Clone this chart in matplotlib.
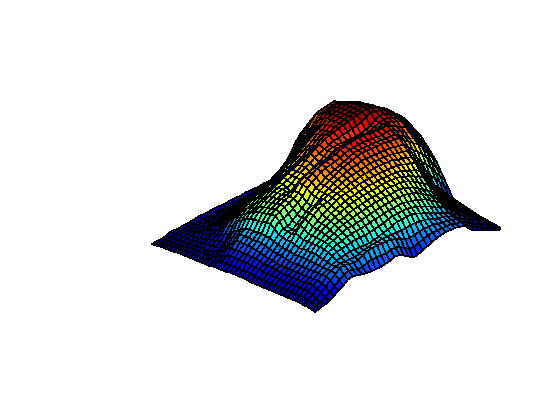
import numpy as np
import matplotlib
matplotlib.use("Agg")
import matplotlib.pyplot as plt
from mpl_toolkits.mplot3d import proj3d

# Surface heights (rows: left->front edge, cols: front->right edge)
heights = [
[0,1,1,2,4,4,4,5,5,6,7,7,7,8,8,8,8,9,9,9,10,10,10,10,11,11,11,11,12,12,13,13,14,14,15,15,15,15,15,14,14],
[0,1,2,2,3,4,4,5,5,5,6,6,6,7,7,7,8,8,9,9,10,11,12,13,14,15,17,19,22,22,23,23,24,24,24,24,24,23,21,19,18],
[1,1,2,3,4,4,5,5,6,6,6,7,7,8,8,9,9,10,11,12,13,14,15,16,18,20,23,27,32,33,34,35,36,36,35,34,33,31,28,25,23],
[1,2,2,3,4,5,5,6,6,7,7,8,8,9,10,11,12,13,14,15,16,17,19,21,23,27,32,38,44,46,47,48,48,47,46,44,41,38,35,30,27],
[1,2,2,3,4,5,6,6,7,8,8,9,10,11,12,13,14,15,16,17,18,20,22,24,28,34,42,50,57,59,60,61,61,59,56,53,50,46,41,36,32],
[1,2,2,3,4,5,7,8,9,10,11,12,13,15,16,17,19,20,22,24,26,28,30,33,37,43,50,57,64,66,67,68,68,66,62,60,56,52,46,41,36],
[2,3,3,4,5,6,8,10,12,13,14,16,17,19,20,22,24,26,28,30,32,35,38,42,46,51,57,64,71,73,74,75,76,73,69,66,63,57,51,46,40],
[2,3,4,4,5,7,9,11,14,15,17,19,20,22,24,26,28,30,32,34,37,40,44,48,53,59,65,72,78,80,81,82,83,80,76,72,69,62,56,50,44],
[2,4,4,5,6,8,11,13,16,18,20,22,24,26,28,30,32,34,37,39,42,46,50,55,60,66,72,79,85,87,88,89,90,86,82,79,75,68,61,55,48],
[2,3,4,5,7,9,12,16,20,23,25,27,30,32,34,36,38,40,43,45,48,52,57,61,66,71,76,81,87,88,89,90,91,88,84,82,78,71,64,58,51],
[2,3,5,4,7,10,14,20,25,28,30,32,35,37,40,42,44,46,49,51,54,58,62,66,71,76,80,85,90,90,92,93,93,90,87,84,80,74,67,60,54],
[2,3,4,6,8,11,16,22,29,31,34,37,39,41,45,47,49,51,53,57,60,64,67,71,76,80,83,88,91,92,93,94,94,92,90,86,82,76,70,63,57],
[2,3,5,6,8,12,18,25,32,36,39,42,45,47,50,52,54,57,60,62,65,69,72,76,80,83,86,90,92,93,94,95,95,94,92,88,85,79,73,66,60],
[2,5,5,9,12,17,22,30,35,39,41,45,47,50,53,55,58,60,62,65,68,72,74,78,82,84,87,90,92,93,94,95,96,95,92,89,86,80,74,68,62],
[2,4,8,11,15,20,25,33,38,41,44,47,50,53,55,58,60,62,65,67,70,74,76,80,83,85,88,90,92,93,94,95,96,95,93,90,86,82,76,70,65],
[3,6,9,15,18,23,28,36,41,43,47,49,53,55,58,61,63,65,67,70,73,76,78,82,85,86,88,90,92,93,94,95,96,95,94,90,87,83,78,72,68],
[3,8,11,17,22,27,30,38,43,46,49,52,55,56,58,60,62,64,68,72,76,79,81,84,86,87,89,90,92,93,94,95,96,95,94,91,88,84,79,75,70],
[3,7,13,16,23,26,31,39,44,47,50,53,55,57,56,58,62,65,68,70,74,76,78,80,82,83,84,85,86,87,89,92,94,93,92,90,86,82,77,72,68],
[3,8,12,18,22,27,31,39,45,48,51,53,55,56,54,58,62,64,66,68,71,74,78,80,80,80,80,80,80,81,82,84,88,90,90,88,85,80,75,70,65],
[4,7,13,16,23,26,31,40,46,49,52,54,56,57,58,62,65,67,69,71,73,75,78,80,80,80,80,80,80,81,83,85,87,88,88,86,83,78,73,68,62],
[4,8,12,18,22,27,32,41,47,50,53,55,57,60,66,70,72,74,76,77,78,80,82,84,85,85,86,86,86,85,85,86,87,87,86,84,82,76,71,65,60],
[4,7,13,16,21,26,31,41,47,49,52,54,56,60,66,70,73,76,78,79,80,82,84,86,87,88,88,88,88,87,87,87,88,85,83,80,78,72,66,60,55],
[4,8,12,17,20,25,31,38,44,44,47,50,54,58,64,68,71,74,76,77,78,80,82,84,84,85,85,85,85,84,84,85,85,82,80,76,74,68,62,56,50],
[4,8,11,16,19,24,29,34,38,38,42,46,50,54,60,64,66,70,72,74,76,78,80,82,83,83,83,83,83,83,82,83,82,79,76,72,70,64,58,52,45],
[3,7,12,14,18,23,28,33,37,36,40,44,48,52,59,63,66,69,71,74,76,78,79,81,82,82,82,82,82,82,81,81,80,76,73,69,66,60,53,47,40],
[3,6,10,15,18,22,27,32,36,38,42,46,50,54,58,62,65,68,70,72,74,75,76,78,78,78,78,78,78,78,77,76,76,71,66,62,58,52,45,39,32],
[3,7,10,14,17,22,26,32,38,44,48,52,56,58,60,62,64,66,68,70,71,72,73,74,75,75,75,75,75,74,73,72,71,66,60,54,49,44,37,31,25],
[3,6,11,14,16,21,26,31,37,42,47,52,56,58,59,61,63,64,66,68,68,70,70,71,72,72,72,72,72,70,69,68,66,60,54,47,40,35,29,23,18],
[3,6,10,13,16,20,25,29,35,39,44,48,52,55,57,60,62,63,64,65,66,67,67,68,68,68,68,68,68,67,65,64,62,55,47,40,32,27,21,15,10],
[3,6,10,13,16,20,25,30,35,39,43,47,50,53,55,57,59,60,61,62,63,64,64,65,65,65,65,65,64,62,60,59,56,50,42,36,29,24,19,14,9],
[3,6,10,13,16,20,25,30,35,39,43,46,49,51,53,55,57,58,59,60,61,61,62,63,63,63,63,62,60,59,56,54,51,45,38,32,26,22,17,12,8],
[3,6,10,13,16,20,25,30,35,38,41,44,47,49,50,52,54,55,56,57,58,58,59,60,60,60,60,59,57,55,52,49,46,40,34,28,23,19,15,10,7],
[3,6,10,13,16,20,25,30,35,38,40,42,45,47,48,50,51,52,53,54,55,55,56,56,57,57,56,55,53,50,47,44,40,35,30,25,20,16,13,9,6],
[3,6,10,13,16,20,24,29,34,37,39,41,43,45,45,46,47,48,49,50,51,52,52,53,53,53,52,51,49,46,43,40,36,32,27,23,19,15,11,8,5],
[3,6,10,13,16,20,24,28,33,35,37,38,40,41,42,42,43,44,45,46,47,48,48,49,49,48,47,46,44,42,39,36,33,29,25,21,17,13,10,7,4],
[3,6,10,14,16,20,24,27,31,33,34,35,36,37,37,37,38,39,40,41,43,44,44,45,45,44,43,41,39,37,34,32,30,26,22,19,16,12,9,6,3],
[3,6,10,14,17,20,23,26,28,29,30,31,31,31,31,31,32,33,35,36,38,40,40,41,41,40,38,36,34,32,30,28,26,23,20,17,14,11,8,5,3],
[2,5,8,12,15,20,24,26,27,27,27,27,28,30,31,32,32,33,33,33,33,33,33,34,34,34,33,32,30,28,28,26,24,21,18,15,12,10,7,4,2],
[2,4,6,10,14,18,22,26,27,26,25,26,29,31,32,32,32,32,32,30,28,26,25,26,27,28,28,28,27,26,26,24,23,19,16,13,10,8,6,3,2],
[1,3,4,7,10,14,18,21,23,22,20,21,23,24,24,24,24,25,26,24,21,18,18,20,22,23,24,24,24,24,24,22,22,17,14,11,9,6,4,2,1],
[0,2,3,5,8,11,14,18,19,18,17,16,16,16,16,17,18,20,20,17,14,11,12,14,16,18,20,21,22,22,22,21,20,15,11,9,7,5,3,1,0],
]

Z = np.array(heights, dtype=float)
x_idx = np.arange(Z.shape[0])
y_idx = np.arange(Z.shape[1])
X, Y = np.meshgrid(x_idx, y_idx, indexing="ij")

fig = plt.figure(figsize=(5.6, 4.2), dpi=100, facecolor="white")
ax = fig.add_axes([0.1, 0.1, 0.6, 0.8], projection="3d", proj_type="ortho")
ax.view_init(elev=25.5, azim=-45.9)
ax.plot_surface(X, Y, Z, rstride=1, cstride=1, cmap="jet", vmin=0, vmax=96,
                edgecolor="k", linewidth=0.4, antialiased=False, shade=False)
ax.set_xlim(0, 40)
ax.set_ylim(0, 40)
ax.set_zlim(0, 100)
ax.set_box_aspect((227, 268, 110.8))
ax.set_axis_off()


def corners():
    fig.canvas.draw()
    pts = []
    for cx, cy in ((0, 0), (40, 40)):
        px, py, _ = proj3d.proj_transform(cx, cy, 0, ax.get_proj())
        pts.append(ax.transData.transform((px, py)))
    return np.array(pts)


# Fit the square axes box so the plot's left and right corners land where they are in the reference
W, H = 560.0, 420.0
side = 300.0
ax.set_position([100 / W, 100 / H, side / W, side / H])
d = corners()
side *= 350.0 / (d[1, 0] - d[0, 0])
ax.set_position([100 / W, 100 / H, side / W, side / H])
d = corners()
left = 100 + (152 - d[0, 0])
bottom = 100 + ((420 - 244) - d[0, 1])
ax.set_position([left / W, bottom / H, side / W, side / H])

fig.savefig("out.png", dpi=100, facecolor="white")
